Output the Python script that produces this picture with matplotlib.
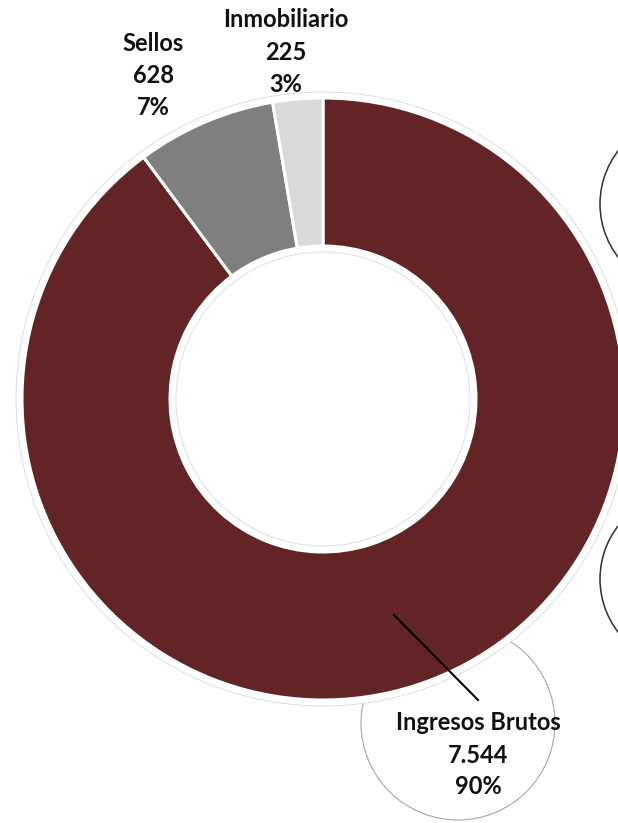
import matplotlib.pyplot as plt
from matplotlib.patches import Circle

# datos
categorias = ['Ingresos Brutos', 'Sellos', 'Inmobiliario']
valores = [7544, 628, 225]
colores = ['#632426', '#7f7f7f', '#d9d9d9']

total = sum(valores)
porcentajes = [round(v / total * 100) for v in valores]

W, H = 618, 823
plt.rcParams['font.family'] = ['Lato', 'DejaVu Sans']

fig = plt.figure(figsize=(W / 100, H / 100), dpi=100)
ax = fig.add_axes([0, 0, 1, 1])

cx, cy = 323, H - 399
r_ext = 301
ancho = 148

# circulos de otras etiquetas (recortados por el borde)
ax.add_patch(Circle((458, H - 723), 97, fill=False, ec='#a6a6a6', lw=0.8, zorder=1))
ax.add_patch(Circle((687, H - 204), 87, fill=False, ec='#2b2f36', lw=1.1, zorder=1))
ax.add_patch(Circle((687, H - 579), 87, fill=False, ec='#2b2f36', lw=1.1, zorder=1))

# borde tenue fuera y dentro del anillo
ax.add_patch(Circle((cx, cy), r_ext + 6, fc='white', ec='#d9d9d9', lw=0.6, zorder=2))

wedges, _ = ax.pie(valores, colors=colores, startangle=90, counterclock=False,
                   radius=r_ext, center=(cx, cy),
                   wedgeprops=dict(width=ancho, edgecolor='white', linewidth=2.2))
for w in wedges:
    w.set_zorder(3)

ax.add_patch(Circle((cx, cy), r_ext - ancho - 6, fc='white', ec='#d9d9d9', lw=0.6, zorder=4))

# linea guia de Ingresos Brutos
ax.plot([394, 478], [H - 615, H - 700], color='black', lw=1.5, zorder=5)

# etiquetas
pos_etiquetas = {
    'Ingresos Brutos': (478, [730, 763, 794]),
    'Sellos': (153, [51, 83, 115]),
    'Inmobiliario': (286, [27, 60, 92]),
}
for cat, val, pct in zip(categorias, valores, porcentajes):
    x, ys = pos_etiquetas[cat]
    lineas = [cat, f'{val:,}'.replace(',', '.'), f'{pct}%']
    for txt, y in zip(lineas, ys):
        ax.text(x, H - y, txt, ha='center', va='baseline', fontsize=17,
                fontweight='bold', color='#111111', zorder=6)

# pie() cambia los limites, se fijan despues
ax.set_xlim(0, W)
ax.set_ylim(0, H)
ax.set_aspect('equal')
ax.axis('off')

fig.savefig('out.png', dpi=100)
